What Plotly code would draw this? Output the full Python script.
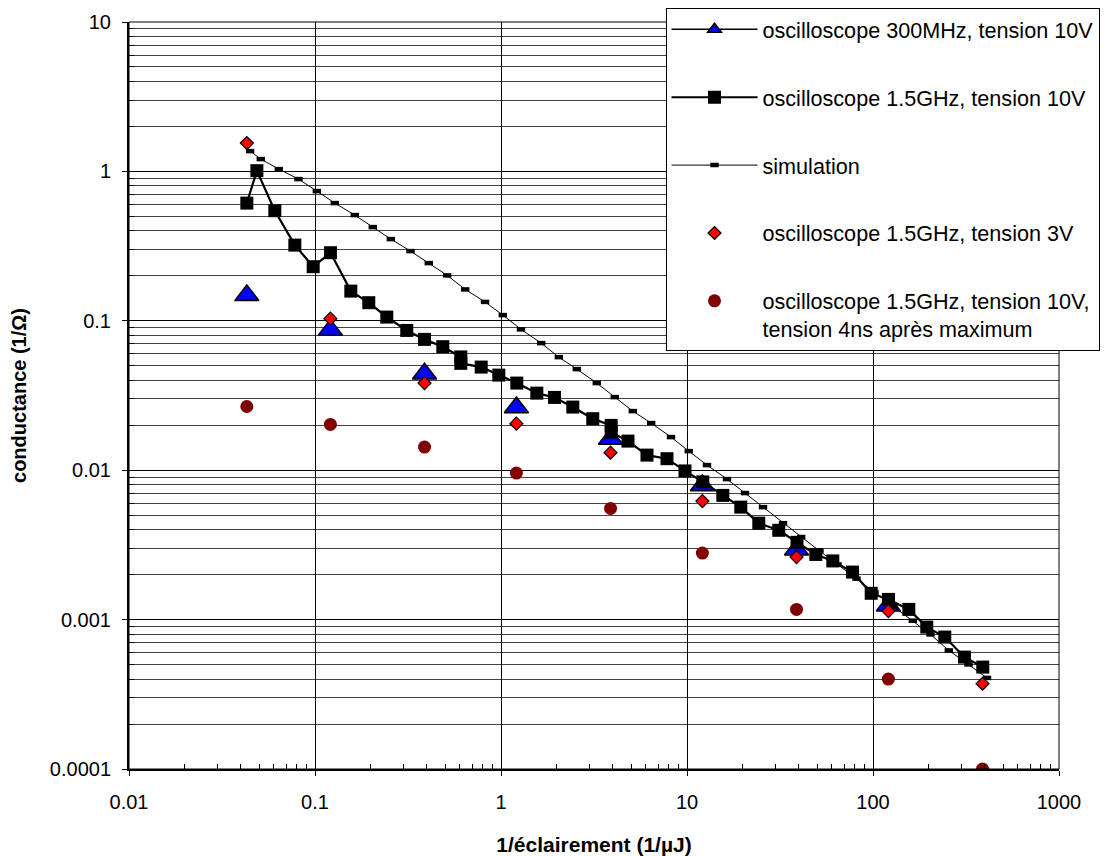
import plotly.graph_objects as go

# ---------------- data ----------------
x_pts = [0.043, 0.121, 0.388, 1.21, 3.88, 12.1, 38.8, 121, 388]

tri_x = [0.043, 0.121, 0.388, 1.21, 3.88, 12.1, 38.8, 121]
tri_y = [0.148, 0.0869, 0.0442, 0.0263, 0.0162, 0.0079, 0.00294, 0.00124]

sq_x = [0.043, 0.0487, 0.0608, 0.0779, 0.0978, 0.1212, 0.1558, 0.1946, 0.2432,
        0.3114, 0.3879, 0.4865, 0.608, 0.608, 0.7826, 0.9732, 1.216, 1.558,
        1.940, 2.432, 3.114, 3.913, 3.913, 4.817, 6.094, 7.805, 9.754, 12.16,
        15.58, 19.46, 24.32, 31.15, 39.03, 49.26, 60.8, 77.6, 97.8, 121.2,
        155.8, 194.6, 243.2, 310.3, 389.2]
sq_y = [0.6136, 1.011, 0.5457, 0.3211, 0.2302, 0.2856, 0.158, 0.1322, 0.1059,
        0.0862, 0.0751, 0.0671, 0.0573, 0.0519, 0.049, 0.0433, 0.0383, 0.0328,
        0.0307, 0.02646, 0.02212, 0.01995, 0.01799, 0.01566, 0.01262, 0.01194,
        0.00989, 0.00835, 0.00678, 0.00566, 0.00442, 0.00396, 0.00329, 0.00273,
        0.00247, 0.00208, 0.0015, 0.001365, 0.00117, 0.000891, 0.000764,
        0.000561, 0.000481]

sim_x = [0.0448, 0.0511, 0.0639, 0.0815, 0.1023, 0.1278, 0.1637, 0.2045, 0.2556,
         0.3262, 0.409, 0.5138, 0.6419, 0.8204, 1.0226, 1.281, 1.645, 2.046,
         2.556, 3.274, 4.09, 5.112, 6.419, 8.204, 10.22, 12.81, 16.41, 20.5,
         25.62, 32.82, 41.11, 51.57, 64.43, 81.53, 101.9, 128.9, 163.7, 203.8,
         255.6, 326.2, 410.2]
sim_y = [1.3676, 1.2087, 1.036, 0.8882, 0.7381, 0.6136, 0.5099, 0.4239, 0.3523,
         0.2928, 0.2433, 0.2013, 0.1622, 0.1338, 0.1092, 0.0876, 0.0709, 0.0571,
         0.0475, 0.0383, 0.03085, 0.02486, 0.02067, 0.01666, 0.01342, 0.01082,
         0.00872, 0.00703, 0.00566, 0.00442, 0.00357, 0.00288, 0.00234, 0.00188,
         0.00152, 0.001226, 0.000983, 0.000796, 0.000622, 0.000501, 0.000407]

dia_y = [1.547, 0.1033, 0.0383, 0.02048, 0.0131, 0.00621, 0.00262, 0.00114, 0.000372]

circ_y = [0.0267, 0.02025, 0.01428, 0.00956, 0.00555, 0.00279, 0.00117, 0.0004, 0.0001]

names = ["oscilloscope 300MHz, tension 10V",
         "oscilloscope 1.5GHz, tension 10V",
         "simulation",
         "oscilloscope 1.5GHz, tension 3V",
         "oscilloscope 1.5GHz, tension 10V,<br>tension 4ns après maximum"]

x_tickvals = [0.01, 0.1, 1, 10, 100, 1000]
x_ticktext = ["0.01", "0.1", "1", "10", "100", "1000"]
y_tickvals = [0.0001, 0.001, 0.01, 0.1, 1, 10]
y_ticktext = ["0.0001", "0.001", "0.01", "0.1", "1", "10"]
minor_vals = [k * 10.0 ** e for e in range(-4, 3) for k in range(2, 10)]

FONT = "Arial, Liberation Sans, sans-serif"

fig = go.Figure()

# legend entry for the 300 MHz series (line + triangle as in the legend)
fig.add_trace(go.Scatter(
    x=[None], y=[None], mode="lines+markers", name=names[0], legendgroup="g0",
    line=dict(color="black", width=1.5),
    marker=dict(symbol="triangle-up", size=12, color="#0000FF",
                line=dict(color="black", width=1.5))))
fig.add_trace(go.Scatter(
    x=tri_x, y=tri_y, mode="markers", name=names[0], legendgroup="g0",
    showlegend=False,
    marker=dict(symbol="triangle-up", size=21, color="#0000FF",
                line=dict(color="black", width=1.5))))
fig.add_trace(go.Scatter(
    x=sq_x, y=sq_y, mode="lines+markers", name=names[1], legendgroup="g1",
    line=dict(color="black", width=2.2),
    marker=dict(symbol="square", size=13, color="black",
                line=dict(color="black", width=0))))
fig.add_trace(go.Scatter(
    x=sim_x, y=sim_y, mode="lines+markers", name=names[2], legendgroup="g2",
    line=dict(color="black", width=1),
    marker=dict(symbol="line-ew", size=6, color="black",
                line=dict(color="black", width=4.5))))
fig.add_trace(go.Scatter(
    x=x_pts, y=dia_y, mode="markers", name=names[3], legendgroup="g3",
    marker=dict(symbol="diamond", size=10, color="#FF0000",
                line=dict(color="black", width=1.2))))
fig.add_trace(go.Scatter(
    x=x_pts, y=circ_y, mode="markers", name=names[4], legendgroup="g4",
    marker=dict(symbol="circle", size=13, color="#800000",
                line=dict(color="#800000", width=0))))

# the page body has an 8px margin: the figure is offset by 8px in the window
fig.update_layout(
    width=1101, height=848, autosize=False,
    margin=dict(l=121, r=50, t=14, b=87, autoexpand=False),
    paper_bgcolor="white", plot_bgcolor="white",
    font=dict(family=FONT, size=20, color="black"),
    showlegend=True,
    legend=dict(x=0.5769, y=1.019, xanchor="left", yanchor="top",
                bgcolor="white", bordercolor="black", borderwidth=1,
                font=dict(family=FONT, size=21.6, color="black"),
                tracegroupgap=36.8, itemwidth=86, valign="top",
                traceorder="grouped"),
    shapes=[dict(type="rect", xref="paper", yref="paper", x0=0, x1=1, y0=0, y1=1,
                 line=dict(color="black", width=1), layer="above")],
)

fig.update_xaxes(
    type="log", range=[-2, 3], automargin=False,
    tickmode="array", tickvals=x_tickvals, ticktext=x_ticktext,
    showgrid=True, gridcolor="black", gridwidth=1,
    showline=True, linecolor="black", linewidth=2,
    ticks="outside", ticklen=5, tickcolor="black", ticklabelstandoff=9,
    minor=dict(tickmode="array", tickvals=minor_vals, ticks="inside",
               ticklen=5, tickcolor="black", showgrid=False),
    zeroline=False,
    title=dict(text="1/éclairement (1/µJ)", standoff=33,
               font=dict(family=FONT, size=21, weight="bold")),
)
fig.update_yaxes(
    type="log", range=[-4, 1], automargin=False,
    tickmode="array", tickvals=y_tickvals, ticktext=y_ticktext,
    showgrid=True, gridcolor="black", gridwidth=1,
    showline=True, linecolor="black", linewidth=2,
    ticks="outside", ticklen=5, tickcolor="black", ticklabelstandoff=7,
    minor=dict(tickmode="array", tickvals=minor_vals, ticks="inside",
               ticklen=5, tickcolor="black", showgrid=True,
               gridcolor="#444444", gridwidth=1),
    zeroline=False,
    title=dict(text="conductance (1/Ω)", standoff=20,
               font=dict(family=FONT, size=20, weight="bold")),
)

fig.write_html("out.html")
